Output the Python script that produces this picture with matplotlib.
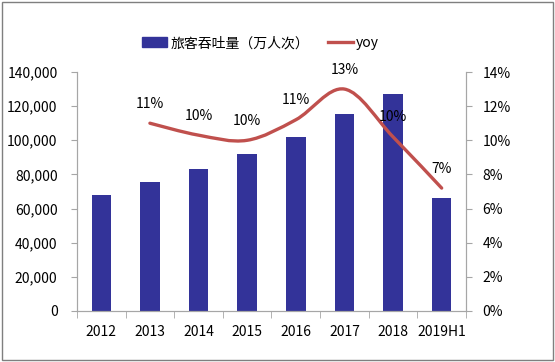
import numpy as np
import matplotlib
matplotlib.use("Agg")
import matplotlib.pyplot as plt
from matplotlib.path import Path
from matplotlib.patches import PathPatch, Rectangle
from matplotlib.lines import Line2D

plt.rcParams['font.family'] = ['Noto Sans CJK SC', 'DejaVu Sans']

years = ['2012', '2013', '2014', '2015', '2016', '2017', '2018', '2019H1']
passengers = [68000, 75700, 83400, 92000, 101700, 115200, 126900, 66000]
yoy_years = ['2013', '2014', '2015', '2016', '2017', '2018', '2019H1']
yoy = [11.0, 10.3, 10.0, 11.2, 13.0, 10.2, 7.2]
yoy_labels = ['11%', '10%', '10%', '11%', '13%', '10%', '7%']

bar_color = '#333399'
line_color = '#C0504D'
grey = '#A6A6A6'

fig = plt.figure(figsize=(5.55, 3.62), dpi=100)
ax = fig.add_axes([0.1387, 0.1409, 0.7009, 0.6602])
ax2 = ax.twinx()

x = np.arange(len(years))
ax.bar(x, passengers, width=0.4, color=bar_color, zorder=2)
ax.set_xlim(-0.5, len(years) - 0.5)
ax.set_ylim(0, 140000)
ax.set_yticks(np.arange(0, 140001, 20000))
ax.set_yticklabels([f'{v:,}' for v in range(0, 140001, 20000)])
ax.set_xticks(x)
ax.set_xticklabels(years)
ax.set_xticks(np.arange(-0.5, len(years), 1), minor=True)
ax.tick_params(axis='x', which='major', length=0, pad=10, labelsize=10)
ax.tick_params(axis='x', which='minor', length=5, color=grey, direction='out')
ax.tick_params(axis='y', length=4, color=grey, labelsize=10, pad=10)

# smoothed yoy line (Catmull-Rom -> cubic bezier)
xi = np.array([years.index(y) for y in yoy_years], dtype=float)
yi = np.array(yoy)
verts = [(xi[0], yi[0])]
codes = [Path.MOVETO]
n = len(xi)
for i in range(n - 1):
    p0 = (xi[max(i - 1, 0)], yi[max(i - 1, 0)])
    p1 = (xi[i], yi[i])
    p2 = (xi[i + 1], yi[i + 1])
    p3 = (xi[min(i + 2, n - 1)], yi[min(i + 2, n - 1)])
    c1 = (p1[0] + (p2[0] - p0[0]) / 6, p1[1] + (p2[1] - p0[1]) / 6)
    c2 = (p2[0] - (p3[0] - p1[0]) / 6, p2[1] - (p3[1] - p1[1]) / 6)
    verts += [c1, c2, p2]
    codes += [Path.CURVE4] * 3
ax2.add_patch(PathPatch(Path(verts, codes), facecolor='none',
                        edgecolor=line_color, lw=2.4, capstyle='round', zorder=3))
for xv, yv, lab in zip(xi, yi, yoy_labels):
    ax2.annotate(lab, (xv, yv), xytext=(0, 9), textcoords='offset points',
                 ha='center', va='bottom', fontsize=10)

ax2.set_ylim(0, 14)
ax2.set_yticks(np.arange(0, 15, 2))
ax2.set_yticklabels([f'{v}%' for v in range(0, 15, 2)])
ax2.tick_params(axis='y', length=4, color=grey, labelsize=10, pad=8)

for a in (ax, ax2):
    a.spines['top'].set_visible(False)
    for s in ('left', 'right', 'bottom'):
        a.spines[s].set_color(grey)

handles = [Rectangle((0, 0), 1, 1, color=bar_color),
           Line2D([0], [0], color=line_color, lw=2.4)]
fig.legend(handles, ['旅客吞吐量（万人次）', 'yoy'], loc='center',
           bbox_to_anchor=(0.47, 0.881), ncol=2, frameon=False, fontsize=10,
           handlelength=1.8, columnspacing=1.4, handletextpad=0.2)

fig.patches.append(Rectangle((0.004, 0.006), 0.992, 0.988, transform=fig.transFigure,
                             fill=False, edgecolor='#7F7F7F', lw=1))

fig.savefig('out.png', dpi=100)
